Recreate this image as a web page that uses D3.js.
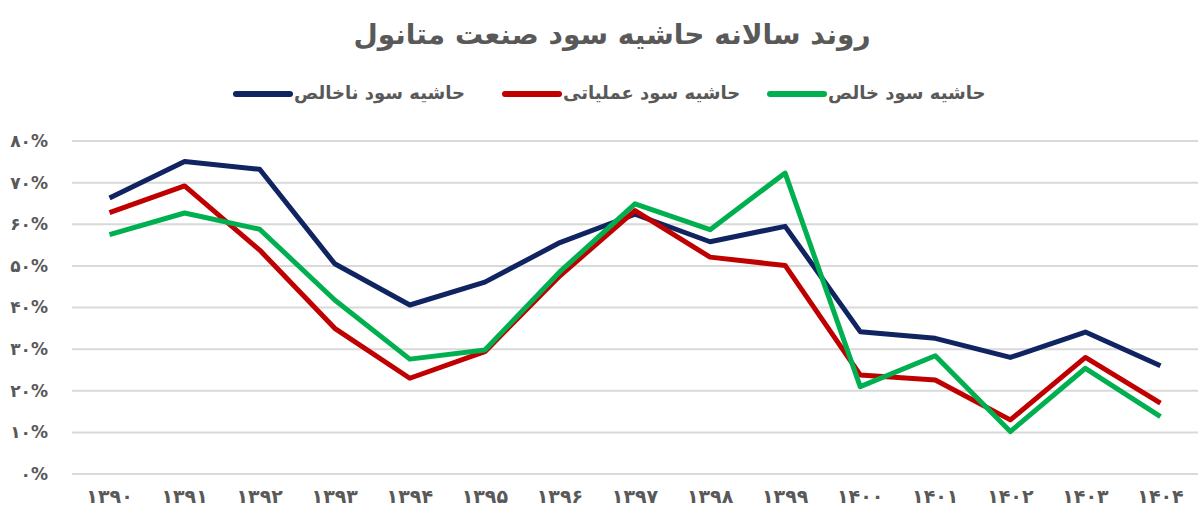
<!DOCTYPE html>
<html>
<head>
<meta charset="utf-8">
<script src="https://cdn.jsdelivr.net/npm/d3@7"></script>
<style>
  body { margin: 0; background: #fff; }
  text { font-family: "DejaVu Sans", sans-serif; }
</style>
</head>
<body>
<div id="container"></div>
<script>
const years = ['۱۳۹۰','۱۳۹۱','۱۳۹۲','۱۳۹۳','۱۳۹۴','۱۳۹۵','۱۳۹۶','۱۳۹۷','۱۳۹۸','۱۳۹۹','۱۴۰۰','۱۴۰۱','۱۴۰۲','۱۴۰۳','۱۴۰۴'];
const grossMargin = [66.3, 75.1, 73.2, 50.5, 40.6, 46.1, 55.6, 62.4, 55.8, 59.5, 34.2, 32.6, 28.0, 34.1, 26.0];
const operatingMargin = [62.8, 69.2, 53.8, 35.0, 23.0, 29.4, 47.6, 63.3, 52.1, 50.1, 23.8, 22.6, 13.0, 28.0, 17.0];
const netMargin = [57.5, 62.7, 58.8, 41.8, 27.6, 29.8, 48.6, 64.9, 58.7, 72.3, 21.0, 28.4, 10.2, 25.4, 13.8];
const yTicks = [0, 10, 20, 30, 40, 50, 60, 70, 80];
const seriesNames = ['حاشیه سود ناخالص', 'حاشیه سود عملیاتی', 'حاشیه سود خالص'];
const seriesColors = ['#0f2461', '#c00000', '#00b050'];
const title = 'روند سالانه حاشیه سود صنعت متانول';

const w = 1200;
const h = 532;

const toFa = s => String(s).replace(/\d/g, d => '۰۱۲۳۴۵۶۷۸۹'[d]);

const svg = d3.select('#container')
    .append('svg')
    .attr('width', w)
    .attr('height', h);

const x = d3.scaleBand()
    .domain(years)
    .range([72, 1198]);

const y = d3.scaleLinear()
    .domain([0, 80])
    .range([474, 141]);

// grid
svg.append('g')
    .selectAll('line')
    .data(yTicks)
    .join('line')
    .attr('x1', 72)
    .attr('x2', 1198)
    .attr('y1', d => y(d))
    .attr('y2', d => y(d))
    .attr('stroke', '#d9d9d9')
    .attr('stroke-width', 2);

// y labels
const yAxis = d3.axisLeft(y)
    .tickValues(yTicks)
    .tickSize(0)
    .tickPadding(0)
    .tickFormat(d => toFa(d) + '%');

svg.append('g')
    .attr('transform', 'translate(48,0)')
    .call(yAxis)
    .call(g => g.select('.domain').remove())
    .selectAll('text')
    .attr('direction', 'ltr')
    .attr('font-size', 17)
    .attr('font-weight', 'bold')
    .attr('fill', '#595959');

// x labels
const xAxis = d3.axisBottom(x)
    .tickSize(0)
    .tickPadding(0);

svg.append('g')
    .attr('transform', 'translate(0,489)')
    .call(xAxis)
    .call(g => g.select('.domain').remove())
    .selectAll('text')
    .attr('font-size', 19)
    .attr('font-weight', 'bold')
    .attr('fill', '#595959');

// lines
const line = d3.line()
    .x((d, i) => x(years[i]) + x.bandwidth() / 2)
    .y(d => y(d));

svg.append('g')
    .selectAll('path')
    .data([grossMargin, operatingMargin, netMargin])
    .join('path')
    .attr('d', line)
    .attr('fill', 'none')
    .attr('stroke', (d, i) => seriesColors[i])
    .attr('stroke-width', 5)
    .attr('stroke-linejoin', 'round');

// title
svg.append('text')
    .attr('x', 612)
    .attr('y', 44)
    .attr('text-anchor', 'middle')
    .attr('direction', 'rtl')
    .attr('font-size', 28)
    .attr('font-weight', 'bold')
    .attr('fill', '#595959')
    .text(title);

// legend
const legendX = [236, 505, 770];
const legend = svg.append('g')
    .selectAll('g')
    .data(seriesNames)
    .join('g')
    .attr('transform', (d, i) => `translate(${legendX[i]},94)`);

legend.append('line')
    .attr('x1', 0)
    .attr('x2', 54)
    .attr('stroke', (d, i) => seriesColors[i])
    .attr('stroke-width', 6)
    .attr('stroke-linecap', 'round');

legend.append('text')
    .attr('x', 58)
    .attr('y', 0)
    .attr('dy', '0.3em')
    .attr('text-anchor', 'end')
    .attr('direction', 'rtl')
    .attr('font-size', 18)
    .attr('font-weight', 'bold')
    .attr('fill', '#595959')
    .text(d => d);
</script>
</body>
</html>
